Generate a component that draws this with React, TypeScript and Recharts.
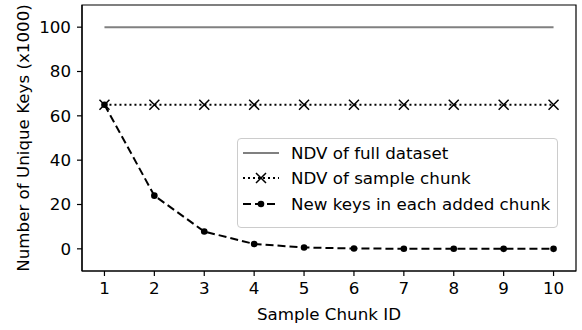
import React from 'react'
import { LineChart, Line, XAxis, YAxis, ReferenceArea } from 'recharts'

const chunkIds = [1, 2, 3, 4, 5, 6, 7, 8, 9, 10]
const fullNdv = [100, 100, 100, 100, 100, 100, 100, 100, 100, 100]
const sampleNdv = [65, 65, 65, 65, 65, 65, 65, 65, 65, 65]
const newKeys = [65, 24, 7.8, 2.2, 0.6, 0.15, 0.05, 0.02, 0, 0]
const yTicks = [0, 20, 40, 60, 80, 100]

const data = chunkIds.map((id, i) => ({
  id,
  full: fullNdv[i],
  sample: sampleNdv[i],
  added: newKeys[i],
}))

const font = 'DejaVu Sans, sans-serif'
const fs = 16.7

const Cross = (props: any) => {
  const { cx, cy } = props
  if (cx == null || cy == null) return null
  return (
    <path
      d={`M${cx - 5},${cy - 5}L${cx + 5},${cy + 5}M${cx - 5},${cy + 5}L${cx + 5},${cy - 5}`}
      stroke="#000"
      strokeWidth={1.5}
      fill="none"
    />
  )
}

const YLabel = (props: any) => {
  const vb = props.viewBox
  const x = vb.x + 23
  const y = vb.y + vb.height / 2
  return (
    <text x={x} y={y} transform={`rotate(-90 ${x} ${y})`} textAnchor="middle" dominantBaseline="central"
      fontSize={fs} fontFamily={font} fill="#000">
      Number of Unique Keys (x1000)
    </text>
  )
}

const XLabel = (props: any) => {
  const vb = props.viewBox
  return (
    <text x={vb.x + vb.width / 2} y={vb.y + 43} textAnchor="middle" dominantBaseline="central"
      fontSize={fs} fontFamily={font} fill="#000">
      Sample Chunk ID
    </text>
  )
}

const LegendBox = () => {
  const row = (handle: React.ReactNode, label: string) => (
    <div style={{ display: 'flex', alignItems: 'center', height: 25.5, whiteSpace: 'nowrap' }}>
      <svg width={38} height={14} style={{ marginLeft: 4, flex: 'none' }}>{handle}</svg>
      <span style={{ marginLeft: 11 }}>{label}</span>
    </div>
  )
  return (
    <div style={{
      position: 'absolute', left: 237, top: 138, width: 319, height: 87,
      border: '1px solid #cccccc', borderRadius: 4, background: 'rgba(255,255,255,0.8)',
      fontFamily: font, fontSize: fs, color: '#000', boxSizing: 'content-box',
      paddingTop: 1,
    }}>
      {row(<line x1={1} y1={7} x2={37} y2={7} stroke="#808080" strokeWidth={2} />, 'NDV of full dataset')}
      {row(<g>
        <line x1={1} y1={7} x2={37} y2={7} stroke="#000" strokeWidth={2} strokeDasharray="2 3" />
        <path d="M14,2L24,12M14,12L24,2" stroke="#000" strokeWidth={1.5} />
      </g>, 'NDV of sample chunk')}
      {row(<g>
        <line x1={1} y1={7} x2={37} y2={7} stroke="#000" strokeWidth={2} strokeDasharray="8 4" />
        <circle cx={19} cy={7} r={3.3} fill="#000" />
      </g>, 'New keys in each added chunk')}
    </div>
  )
}

export default function App() {
  return (
    <div style={{ position: 'absolute', left: 0, top: 0, width: 582, height: 330, background: '#fff' }}>
      <LineChart width={582} height={330} data={data} margin={{ top: 5, right: 6, bottom: 0, left: 0 }}>
        <XAxis
          dataKey="id"
          type="number"
          domain={[0.55, 10.45]}
          ticks={chunkIds}
          allowDataOverflow
          height={59}
          tickSize={5}
          tickMargin={6}
          axisLine={{ stroke: '#000', strokeWidth: 1.2 }}
          tickLine={{ stroke: '#000', strokeWidth: 1.2 }}
          tick={{ fill: '#000', fontSize: fs, fontFamily: font }}
          label={<XLabel />}
        />
        <YAxis
          type="number"
          domain={[-10, 110]}
          ticks={yTicks}
          allowDataOverflow
          width={82}
          tickSize={5}
          tickMargin={6}
          axisLine={{ stroke: '#000', strokeWidth: 1.2 }}
          tickLine={{ stroke: '#000', strokeWidth: 1.2 }}
          tick={{ fill: '#000', fontSize: fs, fontFamily: font }}
          label={<YLabel />}
        />
        <ReferenceArea x1={0.55} x2={10.45} y1={-10} y2={110} fill="none" stroke="#000" strokeWidth={1.2}
          ifOverflow="visible" />
        <Line dataKey="full" stroke="#808080" strokeWidth={2} dot={false} isAnimationActive={false} />
        <Line dataKey="sample" stroke="#000" strokeWidth={2} strokeDasharray="2 3" dot={<Cross />}
          activeDot={false} isAnimationActive={false} />
        <Line dataKey="added" stroke="#000" strokeWidth={2} strokeDasharray="8 4"
          dot={{ r: 3.3, fill: '#000', stroke: 'none' }} activeDot={false} isAnimationActive={false} />
      </LineChart>
      <LegendBox />
    </div>
  )
}
